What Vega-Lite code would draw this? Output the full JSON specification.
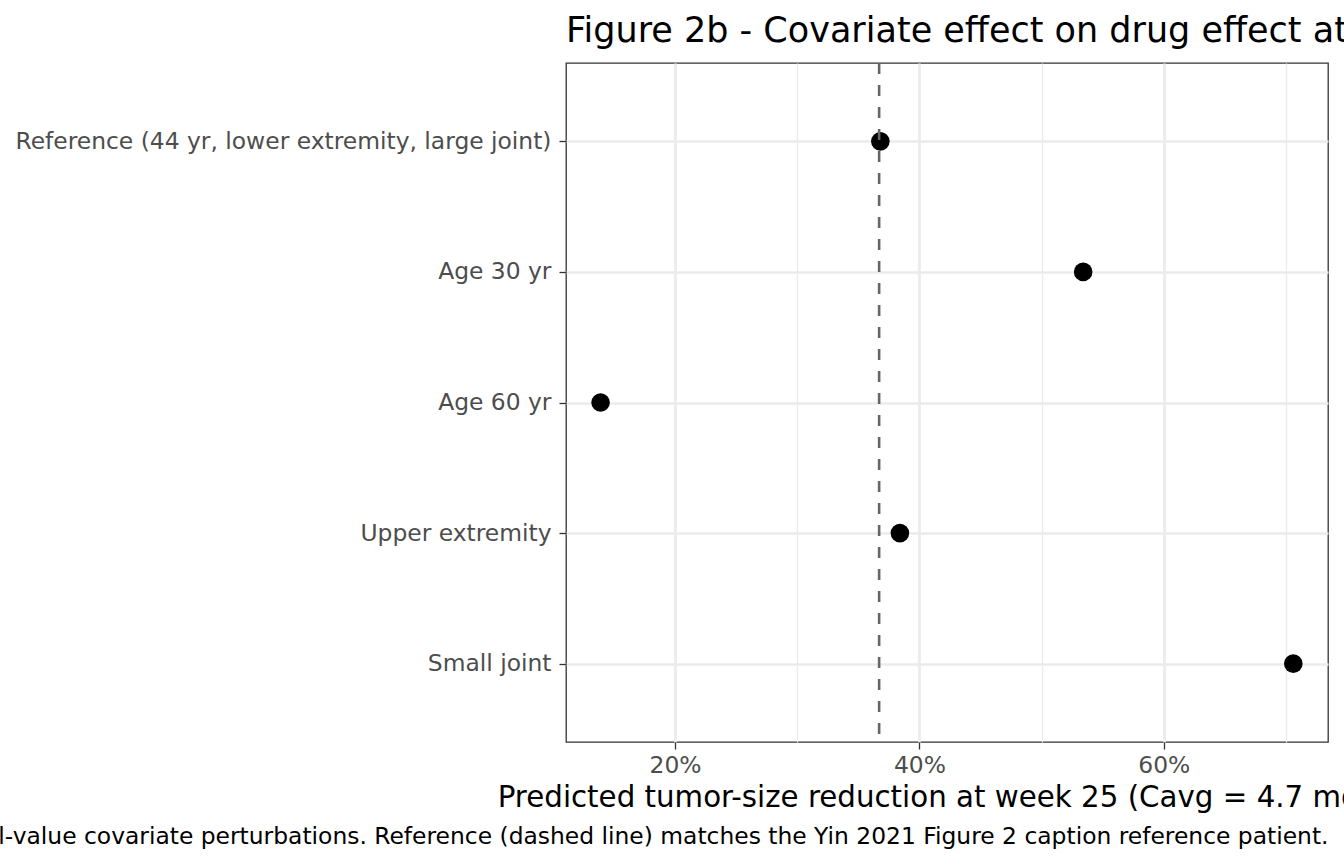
{
  "$schema": "https://vega.github.io/schema/vega-lite/v6.json",
  "autosize": {"type": "none"},
  "padding": {"left": 566, "top": 63, "right": 16, "bottom": 122},
  "width": 762,
  "height": 679,
  "background": "white",
  "config": {
    "font": "DejaVu Sans",
    "view": {"stroke": "#333333", "strokeWidth": 1.3}
  },
  "title": {
    "text": "Figure 2b - Covariate effect on drug effect at week 25",
    "anchor": "start",
    "frame": "group",
    "fontSize": 35,
    "fontWeight": "normal",
    "color": "black",
    "offset": 13
  },
  "layer": [
    {
      "data": {
        "values": [
          {"scenario": "Reference (44 yr, lower extremity, large joint)", "reduction": 0.368},
          {"scenario": "Age 30 yr", "reduction": 0.534},
          {"scenario": "Age 60 yr", "reduction": 0.139},
          {"scenario": "Upper extremity", "reduction": 0.384},
          {"scenario": "Small joint", "reduction": 0.706}
        ]
      },
      "mark": {"type": "circle", "size": 346, "color": "black", "opacity": 1},
      "encoding": {
        "x": {
          "field": "reduction",
          "type": "quantitative",
          "scale": {"domain": [0.1107, 0.7344], "nice": false, "zero": false},
          "axis": {
            "title": "Predicted tumor-size reduction at week 25 (Cavg = 4.7 mg/L)",
            "format": ".0%",
            "values": [0.2, 0.4, 0.6],
            "grid": true,
            "gridColor": "#EBEBEB",
            "gridWidth": 2.7,
            "domain": false,
            "tickColor": "#333333",
            "tickSize": 7,
            "tickWidth": 1.3,
            "labelFontSize": 23.4,
            "labelColor": "#4D4D4D",
            "labelPadding": 5,
            "titleFontSize": 29.3,
            "titleFontWeight": "normal",
            "titleColor": "black",
            "titlePadding": 7
          }
        },
        "y": {
          "field": "scenario",
          "type": "nominal",
          "sort": null,
          "scale": {"type": "point", "padding": 0.6},
          "axis": {
            "title": null,
            "grid": true,
            "gridColor": "#EBEBEB",
            "gridWidth": 2.7,
            "domain": false,
            "tickColor": "#333333",
            "tickSize": 7,
            "tickWidth": 1.3,
            "labelFontSize": 23.4,
            "labelColor": "#4D4D4D",
            "labelPadding": 8,
            "labelLimit": 800
          }
        }
      }
    },
    {
      "data": {"values": [{"reference": 0.367}]},
      "mark": {"type": "rule", "color": "#666666", "strokeWidth": 2.6, "strokeDash": [11, 11]},
      "encoding": {
        "x": {
          "field": "reference",
          "type": "quantitative",
          "scale": {"domain": [0.1107, 0.7344], "nice": false, "zero": false},
          "axis": {
            "orient": "bottom",
            "values": [0.3, 0.5, 0.7],
            "grid": true,
            "gridColor": "#EBEBEB",
            "gridWidth": 1.3,
            "labels": false,
            "ticks": false,
            "domain": false,
            "title": "Typical-value covariate perturbations. Reference (dashed line) matches the Yin 2021 Figure 2 caption reference patient.",
            "titleAnchor": "end",
            "titleAlign": "right",
            "titleFontSize": 23.4,
            "titleFontWeight": "normal",
            "titleColor": "black",
            "titleBaseline": "alphabetic",
            "titleY": 101
          }
        }
      }
    }
  ],
  "resolve": {"scale": {"x": "independent"}, "axis": {"x": "independent"}}
}
